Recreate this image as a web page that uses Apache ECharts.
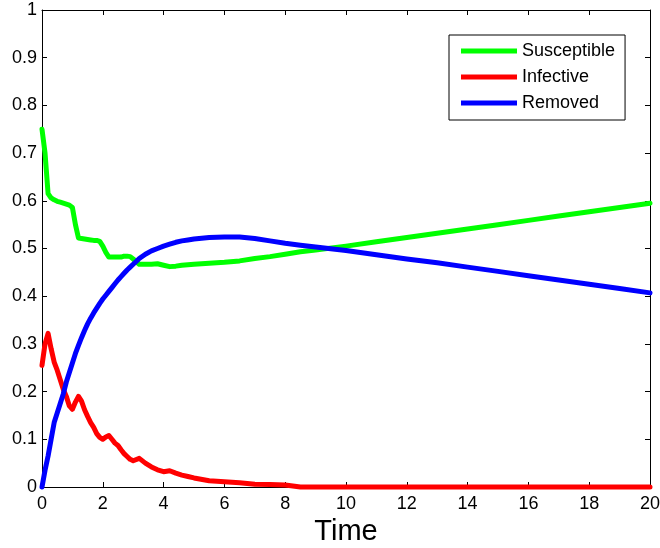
<!DOCTYPE html>
<html>
<head>
<meta charset="utf-8">
<script src="https://cdn.jsdelivr.net/npm/echarts@6/dist/echarts.min.js"></script>
<style>
  html, body { margin: 0; padding: 0; background: #fff; }
  #chart { width: 660px; height: 548px; }
</style>
</head>
<body>
<div id="chart"></div>
<script>
// SIR epidemic fractions over time
const time = [0, 0.1, 0.2, 0.3, 0.4, 0.5, 0.6, 0.7, 0.8, 0.9, 1.0, 1.1, 1.2, 1.3, 1.4, 1.5, 1.6, 1.7, 1.8, 1.9,
  2.0, 2.1, 2.2, 2.3, 2.4, 2.5, 2.6, 2.7, 2.8, 2.9, 3.0, 3.2, 3.4, 3.6, 3.8, 4.0, 4.2, 4.4, 4.6, 4.8,
  5.0, 5.5, 6.0, 6.5, 7.0, 7.5, 8.0, 8.5, 9, 10, 11, 12, 13, 14, 15, 16, 17, 18, 19, 20];

const susceptible = [0.75, 0.70, 0.615, 0.606, 0.602, 0.599, 0.597, 0.595, 0.593, 0.591, 0.586, 0.55, 0.522, 0.521, 0.52, 0.519, 0.518, 0.517, 0.517, 0.515,
  0.505, 0.492, 0.482, 0.482, 0.482, 0.482, 0.482, 0.484, 0.484, 0.483, 0.478, 0.467, 0.467, 0.467, 0.468, 0.465, 0.462, 0.463, 0.465, 0.466,
  0.467, 0.469, 0.471, 0.474, 0.479, 0.483, 0.488, 0.493, 0.497, 0.505, 0.514, 0.523, 0.532, 0.541, 0.550, 0.559, 0.568, 0.577, 0.586, 0.595];

const infective = [0.255, 0.30, 0.322, 0.29, 0.262, 0.245, 0.225, 0.205, 0.19, 0.17, 0.163, 0.178, 0.19, 0.18, 0.162, 0.148, 0.135, 0.125, 0.112, 0.104,
  0.1, 0.105, 0.108, 0.1, 0.092, 0.087, 0.078, 0.07, 0.064, 0.058, 0.055, 0.06, 0.05, 0.042, 0.036, 0.032, 0.034, 0.029, 0.025, 0.022,
  0.019, 0.013, 0.011, 0.009, 0.006, 0.005, 0.004, 0, 0, 0, 0, 0, 0, 0, 0, 0, 0, 0, 0, 0];

const removed = [0.0, 0.035, 0.065, 0.10, 0.135, 0.155, 0.175, 0.195, 0.22, 0.24, 0.26, 0.28, 0.297, 0.313, 0.328, 0.342, 0.354, 0.365, 0.375, 0.385,
  0.394, 0.402, 0.41, 0.418, 0.426, 0.434, 0.441, 0.448, 0.455, 0.461, 0.467, 0.479, 0.488, 0.495, 0.5, 0.505, 0.509, 0.513, 0.516, 0.518,
  0.52, 0.523, 0.524, 0.524, 0.521, 0.516, 0.511, 0.507, 0.503, 0.496, 0.487, 0.478, 0.47, 0.461, 0.452, 0.443, 0.434, 0.425, 0.416, 0.407];

const seriesNames = ['Susceptible', 'Infective', 'Removed'];
const seriesColors = ['#00ff00', '#ff0000', '#0000ff'];
const seriesValues = [susceptible, infective, removed];

const FONT = '"Liberation Sans", Arial, Helvetica, sans-serif';

function pairs(values) {
  return time.map((t, i) => [t, values[i]]);
}

// Boxed axes: ticks point inward on all four sides
const tickStyle = { show: true, inside: true, length: 5, lineStyle: { color: '#000', width: 1 } };
const lineStyle = { show: true, onZero: false, lineStyle: { color: '#000', width: 1 } };

const chart = echarts.init(document.getElementById('chart'), null, { renderer: 'canvas' });

chart.setOption({
  animation: false,
  backgroundColor: '#fff',
  grid: { left: 42, top: 10, width: 608, height: 477, containLabel: false, outerBoundsMode: 'none' },
  legend: {
    data: seriesNames,
    orient: 'vertical',
    left: 449,
    top: 35,
    icon: 'rect',
    itemWidth: 56,
    itemHeight: 5,
    itemGap: 6,
    padding: [6, 10, 7, 12],
    borderColor: '#000',
    borderWidth: 1,
    backgroundColor: '#fff',
    textStyle: { fontFamily: FONT, fontSize: 18, color: '#000', lineHeight: 20 }
  },
  xAxis: [
    {
      type: 'value', min: 0, max: 20, interval: 2, position: 'bottom',
      axisLine: lineStyle, axisTick: tickStyle, splitLine: { show: false },
      axisLabel: { fontFamily: FONT, fontSize: 18, color: '#000', margin: 8 },
      name: 'Time', nameLocation: 'middle', nameGap: 30,
      nameTextStyle: { fontFamily: FONT, fontSize: 29, color: '#000', verticalAlign: 'top' }
    },
    {
      type: 'value', min: 0, max: 20, interval: 2, position: 'top',
      axisLine: lineStyle, axisTick: tickStyle, splitLine: { show: false },
      axisLabel: { show: false }
    }
  ],
  yAxis: [
    {
      type: 'value', min: 0, max: 1, interval: 0.1, position: 'left',
      axisLine: lineStyle, axisTick: tickStyle, splitLine: { show: false },
      axisLabel: { fontFamily: FONT, fontSize: 18, color: '#000', margin: 5 }
    },
    {
      type: 'value', min: 0, max: 1, interval: 0.1, position: 'right',
      axisLine: lineStyle, axisTick: tickStyle, splitLine: { show: false },
      axisLabel: { show: false }
    }
  ],
  series: seriesNames.map((name, k) => ({
    name: name,
    type: 'line',
    xAxisIndex: 0,
    yAxisIndex: 0,
    data: pairs(seriesValues[k]),
    showSymbol: false,
    symbol: 'none',
    clip: false,
    color: seriesColors[k],
    lineStyle: { color: seriesColors[k], width: 5, join: 'round', cap: 'round' },
    z: 3 + k
  }))
});
</script>
</body>
</html>
